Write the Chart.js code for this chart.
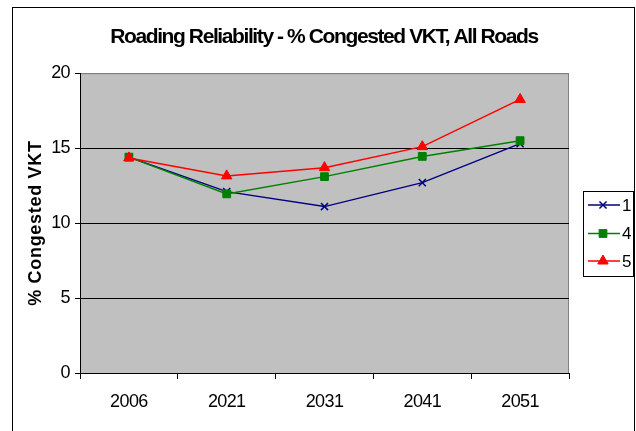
<!DOCTYPE html>
<html>
<head>
<meta charset="utf-8">
<script src="https://cdn.jsdelivr.net/npm/chart.js@4"></script>
<style>
	html, body { margin: 0; padding: 0; background: #fff; }
	#wrap { width: 636px; height: 431px; }
</style>
</head>
<body>
<div id="wrap"><canvas id="line-chart" width="636" height="431"></canvas></div>
<script>
// data
var years = ['2006', '2021', '2031', '2041', '2051'];
var seriesNames = ['1', '4', '5'];
var scen1 = [14.4, 12.1, 11.1, 12.7, 15.3];
var scen4 = [14.4, 11.95, 13.1, 14.45, 15.5];
var scen5 = [14.35, 13.15, 13.7, 15.1, 18.25];
var yTicks = [0, 5, 10, 15, 20];

var FONT = "'Liberation Sans', Arial, sans-serif";

// excel squeezes the title and stretches the rotated axis title,
// so pick a letter spacing from the font being drawn
var spacing = {
	id: 'spacing',
	beforeDraw: function(chart){
		var ctx = chart.ctx;
		if (ctx._spaced) return;
		var orig = ctx.fillText;
		ctx.fillText = function(t, x, y, mw){
			var f = this.font;
			var bold = /bold|700/.test(f);
			if (bold && f.indexOf('21px') >= 0) this.letterSpacing = '-1.4px';
			else if (bold) this.letterSpacing = '0.7px';
			else this.letterSpacing = '-0.6px';
			if (mw === undefined) orig.call(this, t, x, y);
			else orig.call(this, t, x, y, mw);
			this.letterSpacing = '0px';
		};
		ctx._spaced = true;
	}
};

// gray plot area + outer frame like the excel chart
var plotBg = {
	id: 'plotBg',
	beforeDraw: function(chart){
		var ctx = chart.ctx, a = chart.chartArea;
		ctx.save();
		ctx.strokeStyle = '#000';
		ctx.lineWidth = 1;
		ctx.strokeRect(12.5, 7.5, 622, 440);
		ctx.fillStyle = '#C0C0C0';
		ctx.fillRect(a.left, a.top, a.right - a.left, a.bottom - a.top);
		ctx.strokeStyle = '#808080';
		ctx.beginPath();
		ctx.moveTo(a.left, a.top + 0.5);
		ctx.lineTo(a.right - 0.5, a.top + 0.5);
		ctx.lineTo(a.right - 0.5, a.bottom);
		ctx.stroke();
		ctx.restore();
	}
};

// legend box on the right with line + marker samples
var sideLegend = {
	id: 'sideLegend',
	afterDraw: function(chart){
		var ctx = chart.ctx;
		var x0 = 583, y0 = 191, w = 50, h = 85;
		var rows = [205, 233.5, 261];
		ctx.save();
		ctx.fillStyle = '#fff';
		ctx.fillRect(x0, y0, w, h);
		ctx.strokeStyle = '#000';
		ctx.lineWidth = 1;
		ctx.strokeRect(x0 + 0.5, y0 + 0.5, w, h);
		chart.data.datasets.forEach(function(d, i){
			var y = rows[i];
			ctx.strokeStyle = d.borderColor;
			ctx.lineWidth = 1.5;
			ctx.beginPath();
			ctx.moveTo(588, y);
			ctx.lineTo(620, y);
			ctx.stroke();
			ctx.fillStyle = d.pointBackgroundColor;
			ctx.strokeStyle = d.pointBorderColor;
			ctx.lineWidth = d.pointBorderWidth;
			Chart.helpers.drawPoint(ctx, {pointStyle: d.pointStyle, radius: d.pointRadius, borderWidth: d.pointBorderWidth}, 603, y);
			ctx.fillStyle = '#000';
			ctx.font = '17px ' + FONT;
			ctx.textBaseline = 'middle';
			ctx.fillText(d.label, 622, y + 1);
		});
		ctx.restore();
	}
};

function makeSet(label, data, color, style, r){
	return {
		label: label,
		data: data,
		borderColor: color,
		backgroundColor: color,
		borderWidth: 1.5,
		pointStyle: style,
		pointRadius: r,
		pointBackgroundColor: color,
		pointBorderColor: color,
		pointBorderWidth: style === 'crossRot' ? 1.5 : 1,
		tension: 0,
		fill: false
	};
}

var sets = [
	makeSet(seriesNames[0], scen1, '#000080', 'crossRot', 5),
	makeSet(seriesNames[1], scen4, '#008000', 'rect', 5.5),
	makeSet(seriesNames[2], scen5, '#FF0000', 'triangle', 6)
];
sets[0].order = 3;
sets[1].order = 2;
sets[2].order = 1;

new Chart(document.getElementById('line-chart'), {
	type: 'line',
	data: { labels: years, datasets: sets },
	plugins: [spacing, plotBg, sideLegend],
	options: {
		responsive: false,
		animation: false,
		layout: { padding: { left: 12, right: 0, top: 0, bottom: 0 } },
		plugins: {
			legend: { display: false },
			tooltip: { enabled: false },
			title: {
				display: true,
				text: 'Roading Reliability - % Congested VKT, All Roads',
				color: '#000',
				font: { family: FONT, size: 21, weight: 'bold' },
				padding: { top: 25, bottom: 23 }
			}
		},
		scales: {
			x: {
				offset: true,
				afterFit: function(s){ s.height = 58; },
				grid: { offset: true, drawOnChartArea: false, tickLength: 6, color: '#000', tickColor: '#000' },
				border: { color: '#000', width: 1 },
				ticks: { color: '#000', padding: 12, font: { family: FONT, size: 18 }, maxRotation: 0 }
			},
			y: {
				min: 0,
				max: 20,
				afterFit: function(s){ s.width = 68; },
				afterBuildTicks: function(s){ s.ticks = yTicks.map(function(v){ return {value: v}; }); },
				grid: {
					color: function(c){ return c.tick && c.tick.value === 20 ? '#808080' : '#000'; },
					tickColor: '#000',
					tickLength: 5
				},
				border: { color: '#000', width: 1 },
				ticks: { color: '#000', padding: 5, font: { family: FONT, size: 18 } },
				title: {
					display: true,
					text: '% Congested VKT',
					color: '#000',
					font: { family: FONT, size: 18, weight: 'bold' },
					padding: { top: 13, bottom: 0 }
				}
			},
			// empty axis that only keeps room for the legend box
			side: {
				type: 'linear',
				position: 'right',
				display: true,
				afterFit: function(s){ s.width = 67; },
				grid: { display: false },
				border: { display: false },
				ticks: { display: false }
			}
		}
	}
});
</script>
</body>
</html>
